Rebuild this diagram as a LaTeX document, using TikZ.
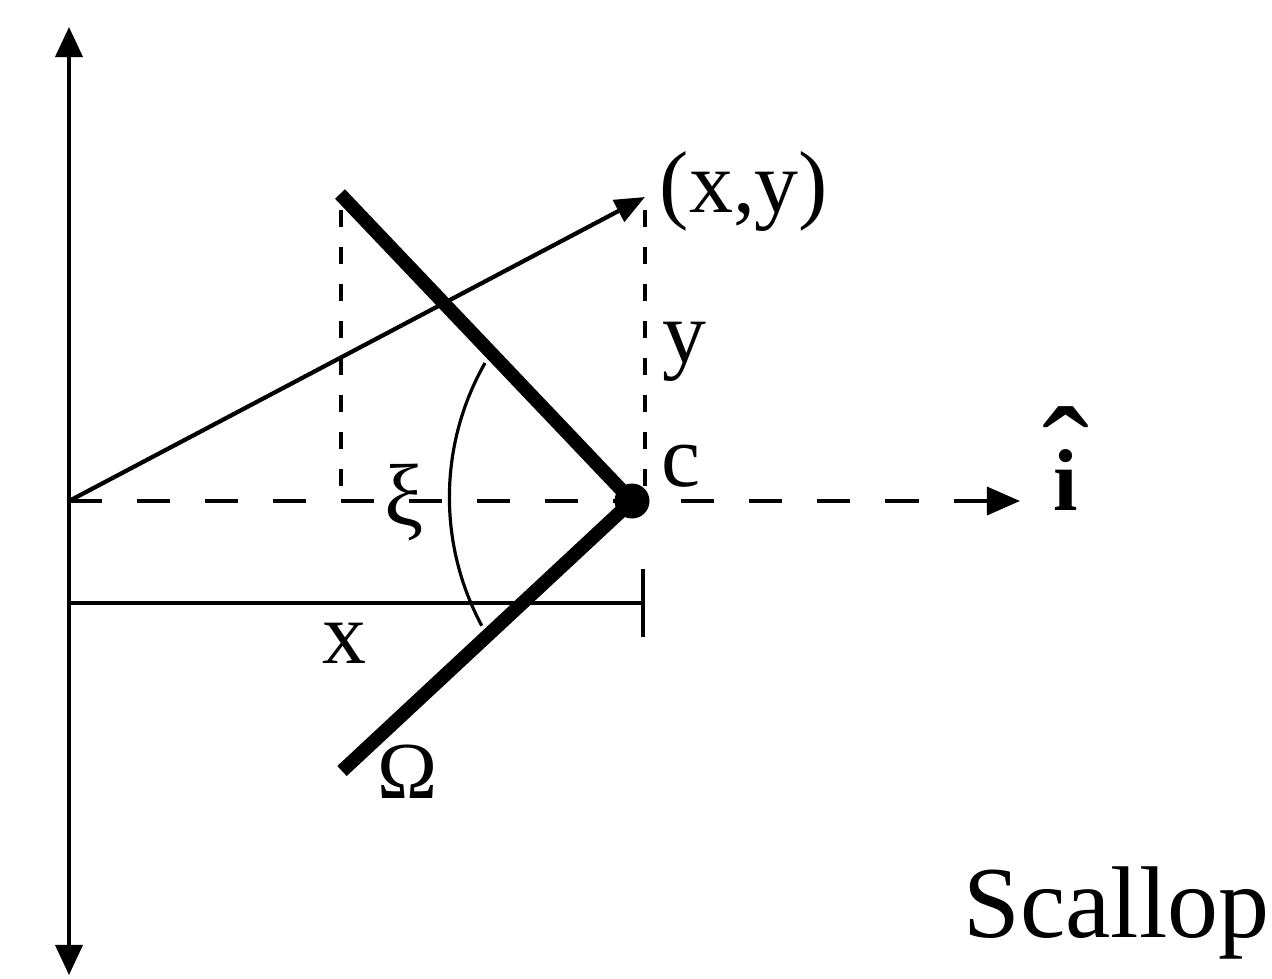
\documentclass[tikz,border=0pt]{standalone}
\usepackage{fontspec}
\setmainfont{Liberation Serif}
\usetikzlibrary{arrows.meta}

\begin{document}
\begin{tikzpicture}[x=0.01cm,y=-0.01cm,font=\fontsize{25}{30}\selectfont,inner sep=0pt,
  axisline/.style={line width=1.1pt,{Triangle[length=3mm,width=2.7mm]}-{Triangle[length=3mm,width=2.7mm]}},
  dirline/.style={line width=1pt,dash pattern=on 0.33cm off 0.35cm,-{Triangle[length=3.3mm,width=2.8mm]}},
  projline/.style={line width=1pt,dash pattern=on 0.17cm off 0.2cm},
  arm/.style={line width=3.9pt},
  posvec/.style={line width=1.2pt,-{Triangle[length=3mm,width=2.4mm]}}]
\useasboundingbox (0,0) rectangle (1272,978);
\coordinate (top) at (69,27);
\coordinate (bot) at (69,975);
\coordinate (O) at (69,501);
\coordinate (ihat) at (1020,501);
\coordinate (xy) at (645,197);
\coordinate (tipU) at (340,194);
\coordinate (tipL) at (342,771);
\coordinate (yA) at (645,210);
\coordinate (yB) at (645,492);
\coordinate (xiA) at (341,210);
\coordinate (xiB) at (341,492);
\coordinate (xA) at (69,603);
\coordinate (xB) at (645,603);
\coordinate (arcA) at (485,363);
% axes
\draw[axisline] (bot) -- (top);
\draw[dirline] (O) -- (ihat);
% projections
\draw[projline] (yA) -- (yB);
\draw[projline] (xiA) -- (xiB);
\draw[line width=1.1pt,-{Bar[width=6.7mm,line width=1.1pt]}] (xA) -- (xB);
% position vector
\draw[posvec] (O) -- (xy);
% scallop shells and hinge
\node[circle,fill,minimum size=0.35cm] (c) at (632,501) {};
\draw[arm] (tipU) -- (c.center) -- (tipL);
\draw[line width=0.9pt] (arcA) arc[start angle=209.7,end angle=151.7,radius=271];
% labels
\node[anchor=base] (lxy) at (744,212) {(x,y)};
\node[anchor=base] (ly) at (684,362) {y};
\node[anchor=base] (lc) at (681,486) {c};
\node (lxi) at (404,503) {ξ};
\node[anchor=base] (lx) at (344,663) {x};
\node[anchor=base,font=\fontsize{23}{27}\selectfont] (lom) at (408,798) {Ω};
\node[anchor=base] (li) at (1066,510) {\ooalign{\hidewidth\raisebox{0.06cm}{\fontsize{40}{40}\selectfont ˆ}\hidewidth\cr\textbf{i}\cr}};
\node[anchor=base west,font=\fontsize{29}{34}\selectfont] (lname) at (963,937) {Scallop};
\end{tikzpicture}
\end{document}
